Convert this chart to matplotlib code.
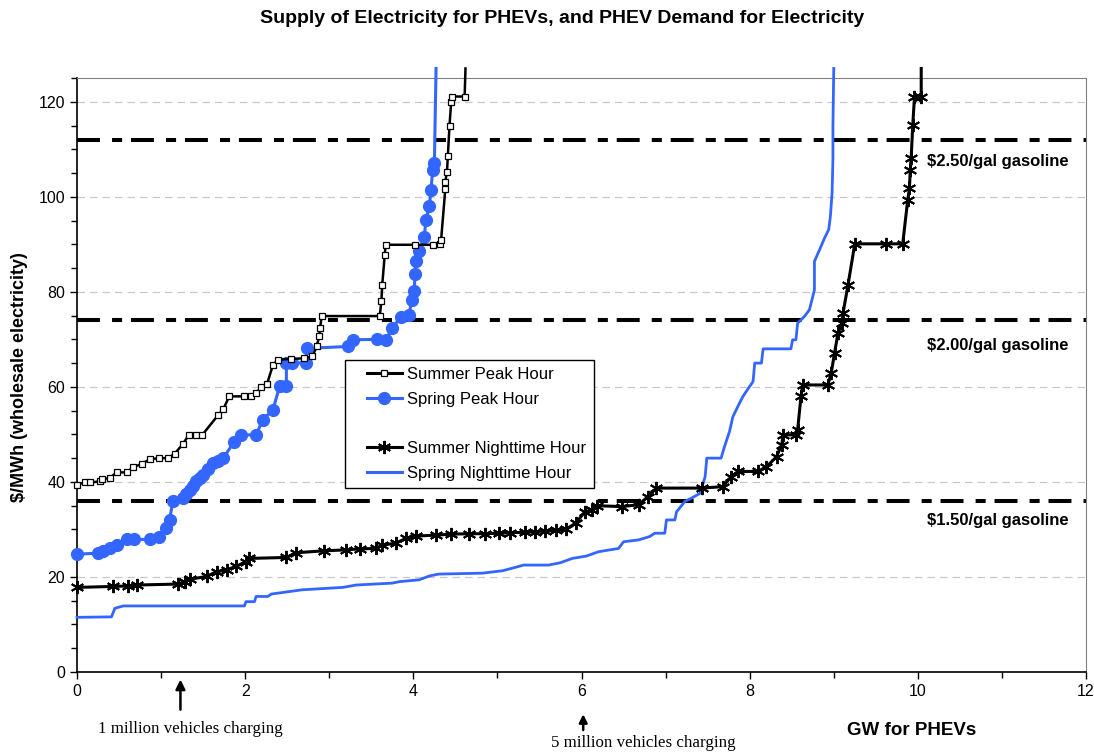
import matplotlib
matplotlib.use('Agg')
import matplotlib.pyplot as plt
from matplotlib.lines import Line2D
from matplotlib.legend_handler import HandlerLine2D
from matplotlib.ticker import MultipleLocator

plt.rcParams['font.family'] = ['Liberation Sans', 'DejaVu Sans']

# ---- data ----
summer_peak_x = [0.0, 0.09, 0.16, 0.27, 0.30, 0.39, 0.47, 0.59, 0.67, 0.77, 0.87, 0.98, 1.08, 1.16,
                 1.26, 1.33, 1.42, 1.49, 1.68, 1.74, 1.81, 1.99, 2.07, 2.13, 2.19, 2.26, 2.33, 2.39,
                 2.55, 2.70, 2.80, 2.85, 2.88, 2.89, 2.91, 3.60, 3.62, 3.63, 3.66, 3.67, 4.02, 4.23,
                 4.32, 4.33, 4.38, 4.38, 4.40, 4.41, 4.43, 4.45, 4.46, 4.61, 4.62]
summer_peak_y = [39.4, 39.9, 39.9, 40.1, 40.6, 40.8, 42.0, 42.0, 43.1, 43.8, 44.8, 45.0, 45.0, 45.9,
                 48.0, 49.9, 49.9, 49.9, 54.1, 55.3, 58.0, 58.0, 58.1, 58.7, 59.9, 60.6, 64.6, 65.7,
                 65.9, 66.0, 66.4, 68.5, 70.6, 72.3, 74.9, 74.9, 78.0, 81.5, 87.8, 89.9, 89.9, 89.9,
                 90.1, 90.9, 101.6, 103.2, 105.3, 108.5, 115.0, 120.0, 121.1, 121.1, 127.0]

spring_peak_x = [0.0, 0.25, 0.31, 0.39, 0.47, 0.59, 0.68, 0.87, 0.98, 1.06, 1.10, 1.14, 1.26, 1.30,
                 1.34, 1.38, 1.42, 1.46, 1.50, 1.56, 1.62, 1.68, 1.74, 1.87, 1.95, 2.13, 2.21, 2.33,
                 2.41, 2.49, 2.49, 2.56, 2.72, 2.74, 3.22, 3.28, 3.57, 3.67, 3.75, 3.85, 3.95, 3.98,
                 4.01, 4.02, 4.03, 4.07, 4.13, 4.15, 4.19, 4.21, 4.23, 4.25, 4.27]
spring_peak_y = [24.8, 25.0, 25.5, 26.0, 26.7, 27.9, 27.9, 27.9, 28.5, 30.2, 32.0, 35.9, 36.6, 37.5,
                 38.3, 39.2, 40.1, 40.8, 41.5, 42.7, 43.9, 44.5, 45.0, 48.5, 49.9, 49.9, 53.1, 55.2,
                 60.1, 60.1, 65.0, 65.1, 65.0, 68.1, 68.5, 69.9, 70.0, 69.9, 72.3, 74.8, 75.2, 78.3,
                 80.1, 83.8, 86.5, 88.5, 91.5, 95.2, 98.0, 101.5, 105.7, 107.1, 127.0]

summer_night_x = [0.0, 0.43, 0.61, 0.71, 1.20, 1.28, 1.34, 1.54, 1.66, 1.78, 1.89, 2.01, 2.05, 2.49,
                  2.61, 2.94, 3.20, 3.36, 3.55, 3.63, 3.79, 3.91, 4.03, 4.27, 4.45, 4.66, 4.85, 5.02,
                  5.15, 5.33, 5.45, 5.57, 5.70, 5.81, 5.93, 6.04, 6.12, 6.18, 6.48, 6.68, 6.79, 6.89,
                  7.43, 7.68, 7.78, 7.86, 8.10, 8.20, 8.32, 8.38, 8.40, 8.55, 8.57, 8.61, 8.63, 8.93,
                  8.97, 9.01, 9.05, 9.10, 9.11, 9.17, 9.25, 9.62, 9.82, 9.88, 9.90, 9.91, 9.92, 9.94,
                  9.96, 10.04, 10.04]
summer_night_y = [17.8, 18.0, 18.1, 18.3, 18.5, 19.0, 19.5, 20.1, 21.1, 21.5, 22.2, 23.2, 23.9, 24.1,
                  25.1, 25.5, 25.7, 25.9, 26.0, 26.7, 27.1, 28.1, 28.6, 28.8, 29.0, 29.1, 29.1, 29.2,
                  29.3, 29.4, 29.5, 29.7, 29.8, 30.0, 31.3, 33.7, 34.1, 35.0, 34.8, 35.2, 36.9, 38.7,
                  38.7, 39.0, 41.1, 42.2, 42.2, 43.2, 45.3, 47.8, 49.9, 49.9, 50.9, 58.0, 60.4, 60.4,
                  62.9, 67.2, 71.3, 73.4, 75.5, 81.5, 90.1, 90.1, 90.1, 99.4, 101.8, 105.7, 108.1, 115.2,
                  121.1, 121.1, 127.0]

spring_night_x = [0.0, 0.41, 0.45, 0.55, 1.99, 2.01, 2.11, 2.13, 2.27, 2.31, 2.68, 3.16, 3.32, 3.75,
                  3.83, 4.07, 4.19, 4.30, 4.82, 5.06, 5.21, 5.31, 5.61, 5.75, 5.89, 6.06, 6.20, 6.44,
                  6.50, 6.68, 6.81, 6.87, 6.99, 7.01, 7.11, 7.13, 7.23, 7.31, 7.41, 7.47, 7.49, 7.66,
                  7.70, 7.76, 7.80, 7.86, 7.92, 8.00, 8.04, 8.06, 8.14, 8.16, 8.49, 8.51, 8.55, 8.57,
                  8.65, 8.71, 8.77, 8.77, 8.83, 8.89, 8.94, 8.96, 8.98, 8.99, 8.99, 9.00]
spring_night_y = [11.5, 11.6, 13.4, 13.9, 13.9, 14.8, 14.8, 15.9, 15.9, 16.4, 17.3, 17.8, 18.3, 18.7,
                  19.0, 19.4, 20.2, 20.6, 20.8, 21.3, 22.0, 22.5, 22.5, 23.0, 23.9, 24.4, 25.3, 26.0,
                  27.4, 27.8, 28.5, 29.2, 29.2, 32.0, 32.0, 33.7, 35.9, 36.6, 37.6, 41.1, 45.0, 45.0,
                  47.4, 50.6, 53.7, 55.9, 58.0, 60.1, 61.1, 65.0, 65.0, 68.0, 68.0, 69.9, 69.9, 73.4,
                  74.8, 76.2, 80.4, 86.4, 88.8, 91.3, 93.1, 95.9, 100.8, 107.8, 114.8, 127.0]

gas_prices = [112, 74, 36]
gas_labels = ['$2.50/gal gasoline', '$2.00/gal gasoline', '$1.50/gal gasoline']
gas_label_y = [107.4, 68.8, 31.8]

blue = '#3366FF'
star = (6, 2, 0)

fig = plt.figure(figsize=(10.94, 7.52), dpi=100)
ax = fig.add_axes([0.0704, 0.1064, 0.9223, 0.7899])

# gasoline-equivalent price lines
for p in gas_prices:
    ax.plot([0, 12], [p, p], color='black', lw=2.9, solid_capstyle='butt',
            linestyle=(0, (5.7, 3.0, 2.5, 2.2)), zorder=2)
for txt, yy in zip(gas_labels, gas_label_y):
    ax.text(10.95, yy, txt, ha='center', va='center', fontsize=12, fontweight='bold')

ax.plot(spring_night_x, spring_night_y, color=blue, lw=2.0, clip_on=False, zorder=3)
ax.plot(summer_night_x, summer_night_y, color='black', lw=2.2, marker=star, ms=9.5,
        mew=1.4, markevery=slice(0, -1), clip_on=False, zorder=4)
ax.plot(spring_peak_x, spring_peak_y, color=blue, lw=2.2, marker='o', ms=8.5, mec=blue,
        markevery=slice(0, -1), clip_on=False, zorder=5)
ax.plot(summer_peak_x, summer_peak_y, color='black', lw=1.8, marker='s', ms=4.2, mfc='white',
        mec='black', mew=0.9, markevery=slice(0, -1), clip_on=False, zorder=6)

ax.set_xlim(0, 12)
ax.set_ylim(0, 125)
ax.xaxis.set_major_locator(MultipleLocator(2))
ax.xaxis.set_minor_locator(MultipleLocator(1))
ax.yaxis.set_major_locator(MultipleLocator(20))
ax.yaxis.set_minor_locator(MultipleLocator(5))
ax.tick_params(which='both', direction='out', labelsize=11.5, width=1, color='black')
ax.tick_params(which='major', length=5)
ax.tick_params(which='minor', length=4)

for yv in range(20, 121, 20):
    ax.axhline(yv, color='#c8c8c8', lw=0.9, linestyle=(0, (6, 4)), zorder=1)

ax.spines['left'].set_color('black')
ax.spines['bottom'].set_color('black')
ax.spines['left'].set_linewidth(1.2)
ax.spines['bottom'].set_linewidth(1.2)
ax.spines['top'].set_color('#808080')
ax.spines['right'].set_color('#808080')

# legend with an empty gap between the two groups
handles = [
    Line2D([], [], color='black', lw=2.2, marker='s', ms=4.2, mfc='white', mec='black', mew=0.9),
    Line2D([], [], color=blue, lw=2.2, marker='o', ms=8.5, mec=blue),
    Line2D([], [], color='none'),
    Line2D([], [], color='black', lw=2.2, marker=star, ms=9.5, mew=1.4),
    Line2D([], [], color=blue, lw=2.2),
]
labels = ['Summer Peak Hour', 'Spring Peak Hour', ' ', 'Summer Nighttime Hour', 'Spring Nighttime Hour']
leg = ax.legend(handles, labels, loc='upper left', bbox_to_anchor=(0.2655, 0.526), fontsize=12,
                frameon=True, fancybox=False, edgecolor='black', framealpha=1,
                handlelength=3.0, handletextpad=0.3, borderpad=0.45, labelspacing=0.58,
                borderaxespad=0, handler_map={Line2D: HandlerLine2D(xpad=0.85)})
leg.get_frame().set_linewidth(1.0)
leg.set_zorder(10)

fig.text(0.514, 0.976, 'Supply of Electricity for PHEVs, and PHEV Demand for Electricity',
         ha='center', va='center', fontsize=14, fontweight='bold')
fig.text(0.018, 0.499, '$/MWh (wholesale electricity)', rotation=90, ha='center', va='center',
         fontsize=13, fontweight='bold')
fig.text(0.833, 0.029, 'GW for PHEVs', ha='center', va='center', fontsize=13.5, fontweight='bold')

# vehicle-count arrows under the axis
ax.annotate('', xy=(1.23, -1.0), xytext=(1.23, -8.5), xycoords='data', textcoords='data',
            annotation_clip=False,
            arrowprops=dict(arrowstyle='-|>', color='black', lw=1.8, mutation_scale=14))
fig.text(0.174, 0.030, '1 million vehicles charging', ha='center', va='center', fontsize=12.2,
         family='Liberation Serif')
ax.annotate('', xy=(6.02, -8.3), xytext=(6.02, -12.8), xycoords='data', textcoords='data',
            annotation_clip=False,
            arrowprops=dict(arrowstyle='-|>', color='black', lw=1.8, mutation_scale=12))
fig.text(0.588, 0.012, '5 million vehicles charging', ha='center', va='center', fontsize=12.2,
         family='Liberation Serif')

plt.savefig('out.png', dpi=100)
